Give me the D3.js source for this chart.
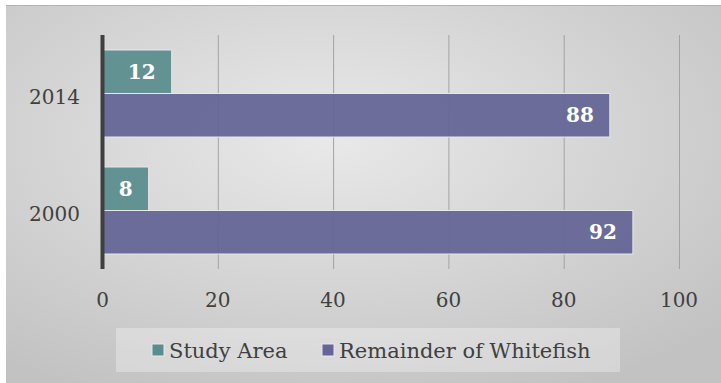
<!DOCTYPE html>
<html>
<head>
<meta charset="utf-8">
<script src="https://cdn.jsdelivr.net/npm/d3@7"></script>
<style>
  body { margin: 0; background: #fff; }
  svg text { font-family: Georgia, "DejaVu Serif", serif; }
</style>
</head>
<body>
<div id="chartDiv"></div>
<script>
const years = ["2014", "2000"];
const seriesNames = ["Study Area", "Remainder of Whitefish"];
const studyArea = [12, 8];
const remainder = [88, 92];
const xTicks = [0, 20, 40, 60, 80, 100];
const colors = ["#5b8d8e", "#656596"];

const width = 721, height = 383;

const svg = d3.select("#chartDiv").append("svg")
    .attr("width", width)
    .attr("height", height);

// background gradient
const defs = svg.append("defs");
const grad = defs.append("radialGradient")
    .attr("id", "bg")
    .attr("cx", "45%").attr("cy", "35%").attr("r", "75%");
grad.append("stop").attr("offset", "0%").attr("stop-color", "#e9e9e9");
grad.append("stop").attr("offset", "100%").attr("stop-color", "#c2c2c2");

svg.append("rect")
    .attr("x", 6).attr("y", 5)
    .attr("width", width - 6).attr("height", height - 5)
    .attr("fill", "url(#bg)");
svg.append("line")
    .attr("x1", 6).attr("x2", width)
    .attr("y1", 5.5).attr("y2", 5.5)
    .attr("stroke", "#b4b4b4");

const x = d3.scaleLinear().domain([0, 100]).range([102.5, 679]);
const y = d3.scaleBand().domain(years).range([35, 269])
    .paddingInner(0.2564).paddingOuter(0.1282);
const ySub = d3.scaleBand().domain(seriesNames).range([0, y.bandwidth()]);

// gridlines
svg.append("g")
  .selectAll("line")
  .data(xTicks.slice(1))
  .join("line")
    .attr("x1", d => x(d) + 0.5).attr("x2", d => x(d) + 0.5)
    .attr("y1", 35).attr("y2", 269)
    .attr("stroke", "#a3a3a3")
    .attr("stroke-width", 1);

// bars
const rows = years.map((yr, i) => ({year: yr, values: [studyArea[i], remainder[i]]}));
const groups = svg.append("g")
  .selectAll("g")
  .data(rows)
  .join("g")
    .attr("transform", d => `translate(0,${y(d.year)})`);

groups.selectAll("rect")
  .data(d => d.values.map((v, j) => ({name: seriesNames[j], value: v, j})))
  .join("rect")
    .attr("x", x(0))
    .attr("y", d => ySub(d.name))
    .attr("width", d => x(d.value) - x(0))
    .attr("height", ySub.bandwidth())
    .attr("fill", d => colors[d.j])
    .attr("fill-opacity", 0.94)
    .attr("stroke", "#e4e8ea")
    .attr("stroke-width", 1);

groups.selectAll("text")
  .data(d => d.values.map((v, j) => ({name: seriesNames[j], value: v})))
  .join("text")
    .attr("x", d => x(d.value) - 16)
    .attr("y", d => ySub(d.name) + ySub.bandwidth() / 2)
    .attr("dy", "0.36em")
    .attr("text-anchor", "end")
    .attr("fill", "#fff")
    .attr("font-weight", "bold")
    .attr("font-size", 20)
    .text(d => d.value);

// vertical axis line
svg.append("line")
    .attr("x1", x(0)).attr("x2", x(0))
    .attr("y1", 35).attr("y2", 269)
    .attr("stroke", "#3f3f3f")
    .attr("stroke-width", 4);

// category labels
svg.append("g")
  .selectAll("text")
  .data(years)
  .join("text")
    .attr("x", 80)
    .attr("y", d => y(d) + y.bandwidth() / 2 + 3)
    .attr("dy", "0.36em")
    .attr("text-anchor", "end")
    .attr("fill", "#404040")
    .attr("font-size", 20)
    .text(d => d);

// x tick labels
svg.append("g")
  .selectAll("text")
  .data(xTicks)
  .join("text")
    .attr("x", d => x(d))
    .attr("y", 300)
    .attr("dy", "0.36em")
    .attr("text-anchor", "middle")
    .attr("fill", "#404040")
    .attr("font-size", 20)
    .text(d => d);

// legend
svg.append("rect")
    .attr("x", 116).attr("y", 328)
    .attr("width", 504).attr("height", 44)
    .attr("fill", "#fff").attr("fill-opacity", 0.3);

const legendX = [152, 322];
const legend = svg.append("g")
  .selectAll("g")
  .data(seriesNames)
  .join("g")
    .attr("transform", (d, i) => `translate(${legendX[i]},344)`);
legend.append("rect")
    .attr("width", 12).attr("height", 12)
    .attr("fill", (d, i) => colors[i])
    .attr("stroke", "#e4e8ea");
legend.append("text")
    .attr("x", 17).attr("y", 6)
    .attr("dy", "0.36em")
    .attr("fill", "#404040")
    .attr("font-size", 21)
    .text(d => d);
</script>
</body>
</html>
